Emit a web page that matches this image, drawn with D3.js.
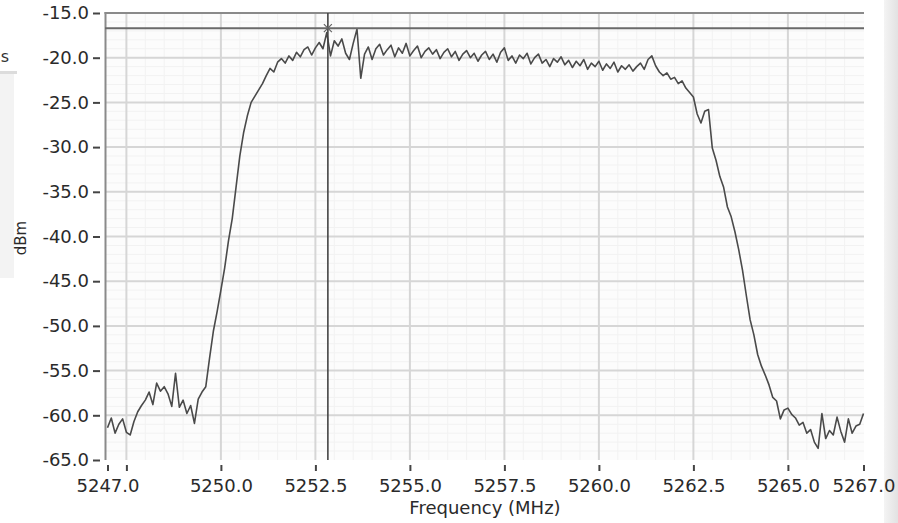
<!DOCTYPE html>
<meta charset="utf-8">
<style>
    body { margin: 0; background: #fff; }
    svg { display: block; font-family: "DejaVu Sans", Verdana, sans-serif; }
    .tick text { fill: #2a2a2a; font-size: 18px; font-family: "DejaVu Sans", Verdana, sans-serif; }
    .tick line { stroke: #444; stroke-width: 2; }
    .trace { fill: none; stroke: #4a4a4a; stroke-width: 1.6; stroke-linejoin: round; }
    .major { stroke: #d6d6d6; stroke-width: 2; }
    .minor { stroke: #f2f2f2; stroke-width: 1; }
</style>

<svg width="898" height="523"></svg>

<script src="https://cdn.jsdelivr.net/npm/d3@7"></script>

<script>
// spectrum trace, one reading every 0.1 MHz from 5247.0 to 5267.0
var freqStart = 5247.0,
    freqStep = 0.1;

var levels = [
    -61.4, -60.3, -62.0, -61.0, -60.4, -61.9, -62.2, -60.7, -59.6, -58.9, // 5247
    -58.3, -57.4, -58.8, -56.4, -57.3, -56.8, -57.6, -59.0, -55.3, -59.1, // 5248
    -58.3, -59.8, -58.9, -60.9, -58.2, -57.4, -56.8, -53.6, -50.6, -48.4, // 5249
    -46.0, -43.5, -40.5, -38.0, -34.5, -31.0, -28.4, -26.5, -25.0, -24.3, // 5250
    -23.6, -22.9, -22.0, -21.2, -21.6, -20.5, -20.1, -20.6, -19.8, -20.3, // 5251
    -19.4, -19.9, -19.1, -18.8, -19.7, -18.9, -18.3, -19.0, -17.2, -19.8, // 5252
    -18.1, -18.7, -17.9, -19.5, -20.2, -18.4, -16.8, -22.3, -19.6, -18.8, // 5253
    -20.2, -19.0, -18.5, -19.7, -19.1, -18.6, -19.9, -18.9, -19.5, -18.4, // 5254
    -19.8, -19.2, -18.7, -20.0, -19.3, -18.9, -19.6, -19.1, -20.1, -19.4, // 5255
    -19.0, -19.9, -19.3, -20.3, -19.6, -19.2, -20.0, -19.5, -20.4, -19.7, // 5256
    -19.3, -20.2, -19.6, -20.5, -19.4, -18.9, -20.3, -19.8, -20.6, -19.7, // 5257
    -20.1, -19.5, -20.7, -20.0, -19.6, -20.6, -20.2, -21.0, -20.1, -20.5, // 5258
    -19.9, -20.8, -20.3, -21.1, -20.4, -20.9, -20.2, -21.3, -20.6, -21.0, // 5259
    -20.4, -21.4, -20.7, -21.2, -20.5, -21.6, -20.9, -21.3, -20.8, -21.5, // 5260
    -21.0, -20.6, -21.3, -20.2, -19.8, -20.9, -21.6, -22.0, -21.7, -22.4, // 5261
    -22.2, -22.9, -22.6, -23.4, -23.9, -24.4, -26.3, -27.3, -26.0, -25.8, // 5262
    -30.1, -31.5, -33.3, -34.5, -36.7, -37.8, -39.5, -41.5, -43.8, -46.6, // 5263
    -49.3, -51.0, -53.2, -54.5, -55.5, -56.6, -58.0, -58.4, -60.4, -59.4, // 5264
    -59.2, -59.9, -60.3, -61.1, -60.8, -62.0, -61.6, -63.0, -63.7, -59.8, // 5265
    -62.6, -61.7, -62.2, -60.2, -61.8, -63.0, -60.4, -62.0, -61.2, -61.0, // 5266
    -59.8                                                                 // 5267
];

var xTicks = [5247.0, 5247.5, 5250.0, 5252.5, 5255.0, 5257.5, 5260.0, 5262.5, 5265.0, 5267.0];
var xGrid = [5247.5, 5250.0, 5252.5, 5255.0, 5257.5, 5260.0, 5262.5, 5265.0];
var yTicks = [-15, -20, -25, -30, -35, -40, -45, -50, -55, -60, -65];
var yGrid = [-20, -25, -30, -35, -40, -45, -50, -55, -60];

var cursorFreq = 5252.83,
    cursorLevel = -16.7;

var points = levels.map(function(v, i) {
    return { f: freqStart + i * freqStep, v: v };
});

// note: "top" is taken by window.top, so the plot edges get their own names
var plotL = 106, plotR = 864, plotT = 13, plotB = 460;

var x = d3.scaleLinear().domain([5247, 5267]).range([plotL + 1.5, plotR - 0.5]),
    y = d3.scaleLinear().domain([-65, -15]).range([plotB, plotT]);

var svg = d3.select("svg");

// right hand grey strip and cut-off panel on the left
var defs = svg.append("defs");
var grad = defs.append("linearGradient").attr("id", "strip");
grad.append("stop").attr("offset", "0").attr("stop-color", "#f4f4f4");
grad.append("stop").attr("offset", "1").attr("stop-color", "#e2e2e2");

svg.append("rect")
    .attr("x", 884).attr("y", 0).attr("width", 14).attr("height", 523)
    .attr("fill", "url(#strip)");

svg.append("rect")
    .attr("x", 0).attr("y", 72).attr("width", 14).attr("height", 206)
    .attr("fill", "#f3f3f3");
svg.append("rect")
    .attr("x", 0).attr("y", 71).attr("width", 17).attr("height", 3)
    .attr("fill", "#dcdcdc");

svg.append("text")
    .attr("x", 9).attr("y", 62)
    .attr("text-anchor", "end")
    .attr("fill", "#333")
    .style("font-size", "16px")
    .text("s");

// plot background
svg.append("rect")
    .attr("x", plotL).attr("y", plotT)
    .attr("width", plotR - plotL).attr("height", plotB - plotT)
    .attr("fill", "#fcfcfc");

var minorX = d3.range(0, 41).map(function(i) { return 5247 + i * 0.5; })
    .filter(function(d) { return xGrid.indexOf(d) < 0 && d > 5247 && d < 5267; });
var minorY = d3.range(-64, -15).filter(function(d) { return d % 5 !== 0; });

var grid = svg.append("g");

grid.selectAll(".minor.vx")
    .data(minorX)
    .enter().append("line")
    .attr("class", "minor vx")
    .attr("x1", function(d) { return x(d); })
    .attr("x2", function(d) { return x(d); })
    .attr("y1", plotT).attr("y2", plotB);

grid.selectAll(".minor.hy")
    .data(minorY)
    .enter().append("line")
    .attr("class", "minor hy")
    .attr("x1", plotL).attr("x2", plotR)
    .attr("y1", function(d) { return y(d); })
    .attr("y2", function(d) { return y(d); });

grid.selectAll(".major.vx")
    .data(xGrid)
    .enter().append("line")
    .attr("class", "major vx")
    .attr("x1", function(d) { return x(d); })
    .attr("x2", function(d) { return x(d); })
    .attr("y1", plotT).attr("y2", plotB);

grid.selectAll(".major.hy")
    .data(yGrid)
    .enter().append("line")
    .attr("class", "major hy")
    .attr("x1", plotL).attr("x2", plotR)
    .attr("y1", function(d) { return y(d); })
    .attr("y2", function(d) { return y(d); });

// frame: left and top edges
svg.append("line")
    .attr("x1", plotL - 0.5).attr("x2", plotL - 0.5)
    .attr("y1", plotT - 1).attr("y2", plotB)
    .attr("stroke", "#8a8a8a").attr("stroke-width", 2);
svg.append("line")
    .attr("x1", plotL - 1.5).attr("x2", plotR)
    .attr("y1", plotT).attr("y2", plotT)
    .attr("stroke", "#8a8a8a").attr("stroke-width", 2);

// axes
var yAxis = d3.axisLeft(y)
    .tickValues(yTicks)
    .tickSize(7)
    .tickPadding(4)
    .tickFormat(function(d) { return d.toFixed(1); });

svg.append("g")
    .attr("transform", "translate(100,0)")
    .call(yAxis)
    .call(function(g) { g.select(".domain").remove(); });

var xAxis = d3.axisBottom(x)
    .tickValues(xTicks)
    .tickSize(6)
    .tickPadding(8)
    .tickFormat(function(d) { return d === 5247.5 ? "" : d.toFixed(1); });

svg.append("g")
    .attr("transform", "translate(0,465)")
    .call(xAxis)
    .call(function(g) { g.select(".domain").remove(); });

svg.append("text")
    .attr("x", (plotL + plotR) / 2)
    .attr("y", 514)
    .attr("text-anchor", "middle")
    .attr("fill", "#2a2a2a")
    .style("font-size", "18px")
    .text("Frequency (MHz)");

svg.append("text")
    .attr("transform", "translate(26,238) rotate(-90)")
    .attr("text-anchor", "middle")
    .attr("fill", "#2a2a2a")
    .style("font-size", "15px")
    .text("dBm");

// trace
var line = d3.line()
    .x(function(d) { return x(d.f); })
    .y(function(d) { return y(d.v); });

svg.append("path")
    .attr("class", "trace")
    .datum(points)
    .attr("d", line);

// cursor
var cx = x(cursorFreq), cy = y(cursorLevel);

svg.append("line")
    .attr("x1", plotL - 1).attr("x2", plotR)
    .attr("y1", cy).attr("y2", cy)
    .attr("stroke", "#6a6a6a").attr("stroke-width", 2);

svg.append("line")
    .attr("x1", cx).attr("x2", cx)
    .attr("y1", plotT).attr("y2", plotB)
    .attr("stroke", "#444").attr("stroke-width", 1.6);

svg.append("path")
    .attr("d", "M" + (cx - 4) + "," + (cy - 4) + "L" + (cx + 4) + "," + (cy + 4) +
               "M" + (cx - 4) + "," + (cy + 4) + "L" + (cx + 4) + "," + (cy - 4))
    .attr("stroke", "#666").attr("stroke-width", 1.2);
</script>
